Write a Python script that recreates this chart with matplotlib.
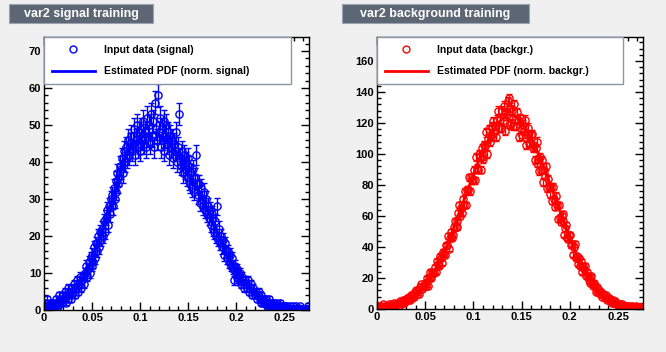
import numpy as np
import matplotlib
matplotlib.use("Agg")
import matplotlib.pyplot as plt
from matplotlib.lines import Line2D
from matplotlib.patches import Rectangle
from matplotlib.ticker import MultipleLocator, FuncFormatter

plt.rcParams['font.family'] = ['Liberation Sans', 'DejaVu Sans']
plt.rcParams['font.weight'] = 'bold'

# histogram binning: width 0.001 starting at 0
bin_lo = 0.0
bin_w = 0.001

# var2 signal training histogram, 10 bins per row
sig_counts = [
    0, 2, 1, 3, 1, 0, 2, 1, 2, 1,
    2, 1, 3, 2, 1, 4, 2, 3, 2, 4,
    3, 5, 2, 4, 3, 6, 4, 5, 3, 6,
    5, 7, 4, 6, 8, 5, 7, 9, 6, 8,
    9, 7, 10, 12, 9, 11, 13, 10, 14, 12,
    15, 13, 17, 14, 18, 16, 20, 17, 21, 19,
    22, 20, 24, 21, 25, 27, 23, 28, 26, 30,
    31, 28, 33, 30, 35, 32, 37, 34, 36, 39,
    38, 41, 37, 43, 40, 44, 41, 46, 42, 45,
    47, 43, 45, 49, 42, 46, 50, 44, 48, 45,
    43, 49, 46, 51, 45, 48, 44, 52, 47, 50,
    45, 53, 47, 51, 44, 56, 49, 46, 58, 48,
    52, 44, 49, 46, 51, 43, 47, 50, 45, 48,
    42, 47, 44, 46, 41, 45, 43, 48, 40, 44,
    53, 41, 39, 43, 37, 42, 38, 40, 36, 41,
    35, 39, 34, 37, 33, 38, 32, 36, 42, 34,
    31, 34, 29, 33, 30, 28, 32, 27, 30, 26,
    28, 25, 27, 23, 26, 22, 25, 21, 24, 20,
    28, 19, 22, 18, 20, 17, 19, 15, 18, 16,
    14, 16, 13, 15, 12, 14, 11, 8, 12, 10,
    11, 9, 10, 8, 10, 7, 9, 8, 6, 8,
    7, 6, 8, 5, 6, 7, 4, 6, 5, 4,
    5, 3, 4, 5, 3, 2, 4, 3, 2, 3,
    2, 3, 1, 2, 3, 1, 2, 1, 2, 1,
    1, 2, 1, 0, 1, 2, 1, 0, 1, 1,
    0, 1, 0, 1, 0, 0, 1, 0, 0, 1,
    0, 0, 1, 0, 0, 0, 1, 0, 0, 0,
    0, 0, 0, 0, 1, 0,
]

# var2 background training histogram
bkg_counts = [
    1, 2, 0, 1, 2, 1, 3, 1, 2, 1,
    2, 1, 3, 2, 1, 3, 2, 4, 2, 3,
    3, 4, 2, 5, 3, 4, 6, 4, 5, 6,
    5, 7, 6, 8, 6, 9, 7, 10, 8, 11,
    12, 10, 12, 10, 14, 16, 13, 15, 14, 17,
    15, 20, 15, 20, 20, 24, 20, 24, 23, 23,
    27, 24, 31, 29, 28, 34, 33, 30, 37, 36,
    35, 41, 41, 47, 39, 46, 50, 46, 48, 53,
    57, 53, 57, 53, 62, 67, 60, 65, 62, 71,
    67, 76, 67, 77, 77, 85, 76, 85, 83, 83,
    90, 83, 98, 91, 90, 100, 98, 90, 104, 99,
    97, 106, 105, 114, 100, 110, 116, 108, 111, 118,
    121, 114, 118, 111, 122, 128, 117, 122, 117, 128,
    121, 131, 115, 127, 125, 134, 136, 130, 119, 120,
    128, 118, 132, 122, 118, 127, 122, 111, 123, 116,
    112, 119, 115, 122, 106, 113, 117, 107, 107, 112,
    113, 104, 105, 96, 104, 108, 94, 97, 89, 98,
    90, 96, 82, 90, 86, 92, 78, 84, 79, 74,
    79, 70, 79, 71, 66, 73, 67, 58, 67, 59,
    56, 60, 57, 61, 48, 52, 54, 46, 45, 48,
    48, 41, 42, 35, 40, 42, 33, 34, 29, 33,
    28, 31, 24, 28, 26, 28, 21, 24, 21, 19,
    21, 17, 21, 17, 15, 17, 15, 11, 14, 11,
    12, 10, 11, 8, 10, 9, 7, 9, 6, 7,
    7, 5, 6, 4, 6, 4, 5, 3, 4, 3,
    3, 2, 3, 2, 3, 1, 2, 2, 1, 2,
    1, 2, 1, 1, 2, 0, 1, 1, 2, 1,
    1, 0, 1, 1, 0, 1,
]

# estimated PDFs, sampled every 0.01
pdf_x = [0.005, 0.015, 0.025, 0.035, 0.045, 0.055, 0.065, 0.075, 0.085, 0.095,
         0.105, 0.115, 0.125, 0.135, 0.145, 0.155, 0.165, 0.175, 0.185, 0.195,
         0.205, 0.215, 0.225, 0.235, 0.245, 0.255, 0.265, 0.275]
sig_pdf = [1.2, 2.3, 4.0, 6.5, 10.6, 17.2, 25.0, 33.2, 41.4, 45.5,
           47.1, 48.0, 46.7, 43.7, 39.5, 34.8, 30.0, 24.2, 18.2, 12.8,
           8.8, 6.1, 3.7, 2.0, 0.9, 0.4, 0.2, 0.1]
bkg_pdf = [1.2, 2.0, 3.7, 7.2, 12.5, 20.0, 30.3, 44.3, 60.8, 78.5,
           95.0, 108.5, 119.7, 125.5, 124.0, 115.7, 103.5, 88.7, 71.5, 53.9,
           38.4, 24.0, 14.0, 8.0, 4.0, 2.2, 1.3, 1.0]

panels = [
    dict(title="var2 signal training", counts=sig_counts, pdf=sig_pdf, color="#0000ff",
         err_scale=0.42, ymax=73.8, ymaj=10, ymin=2,
         labels=["Input data (signal)", "Estimated PDF (norm. signal)"],
         ax_rect=[44, 37, 309, 310], box=[9, 4, 153, 23], leg_right=291),
    dict(title="var2 background training", counts=bkg_counts, pdf=bkg_pdf, color="#ff0000",
         err_scale=0.26, ymax=175.5, ymaj=20, ymin=4,
         labels=["Input data (backgr.)", "Estimated PDF (norm. backgr.)"],
         ax_rect=[377, 37, 643, 309], box=[342, 4, 529, 23], leg_right=623),
]

W, H = 666, 352
fig = plt.figure(figsize=(W / 100, H / 100), dpi=100)
fig.patch.set_facecolor("#f0f0f0")

for p in panels:
    l, t, r, b = p["ax_rect"]
    ax = fig.add_axes([l / W, 1 - b / H, (r - l) / W, (b - t) / H])
    ax.set_facecolor("white")
    y = np.array(p["counts"], dtype=float)
    x = bin_lo + bin_w * (np.arange(len(y)) + 0.5)
    yerr = p["err_scale"] * np.sqrt(y)
    c = p["color"]
    ax.plot(pdf_x, p["pdf"], color=c, lw=2, zorder=1)
    ax.errorbar(x, y, yerr=yerr, fmt="o", ms=5.2, mfc="none", mec=c, mew=1,
                ecolor=c, elinewidth=1, capsize=2.2, capthick=1, zorder=2)

    ax.set_xlim(0, 0.276)
    ax.set_ylim(0, p["ymax"])
    ax.xaxis.set_major_locator(MultipleLocator(0.05))
    ax.xaxis.set_minor_locator(MultipleLocator(0.01))
    ax.yaxis.set_major_locator(MultipleLocator(p["ymaj"]))
    ax.yaxis.set_minor_locator(MultipleLocator(p["ymin"]))
    ax.xaxis.set_major_formatter(FuncFormatter(lambda v, pos: "%g" % round(v, 3)))
    ax.tick_params(which="both", direction="in", top=True, right=True,
                   labelsize=8, width=1, pad=2)
    ax.tick_params(which="major", length=6)
    ax.tick_params(which="minor", length=3)
    for s in ax.spines.values():
        s.set_linewidth(1)

    # legend box
    leg_w = (p["leg_right"] - l) / (r - l)
    handles = [Line2D([], [], ls="none", marker="o", ms=5, mfc="none", mec=c, mew=1),
               Line2D([], [], color=c, lw=2)]
    leg = ax.legend(handles, p["labels"], loc="upper left", mode="expand",
                    bbox_to_anchor=(0, 0, leg_w, 1), borderaxespad=0,
                    fontsize=7.5, handlelength=4.1, handletextpad=0.9,
                    labelspacing=1.1, borderpad=0.75, fancybox=False,
                    framealpha=1, edgecolor="#8a96a8")
    leg.get_frame().set_linewidth(1)
    for txt in leg.get_texts():
        txt.set_fontweight("bold")

    # title box
    bx0, by0, bx1, by1 = p["box"]
    fig.patches.append(Rectangle((bx0 / W, 1 - by1 / H), (bx1 - bx0) / W, (by1 - by0) / H,
                                 transform=fig.transFigure, facecolor="#5c6674",
                                 edgecolor="#9aa2ae", lw=0.8))
    fig.text((bx0 + bx1) / 2 / W, 1 - (by0 + by1) / 2 / H, p["title"], color="white",
             fontsize=9, fontweight="bold", ha="center", va="center")

fig.savefig("out.png", dpi=100, facecolor=fig.get_facecolor())
